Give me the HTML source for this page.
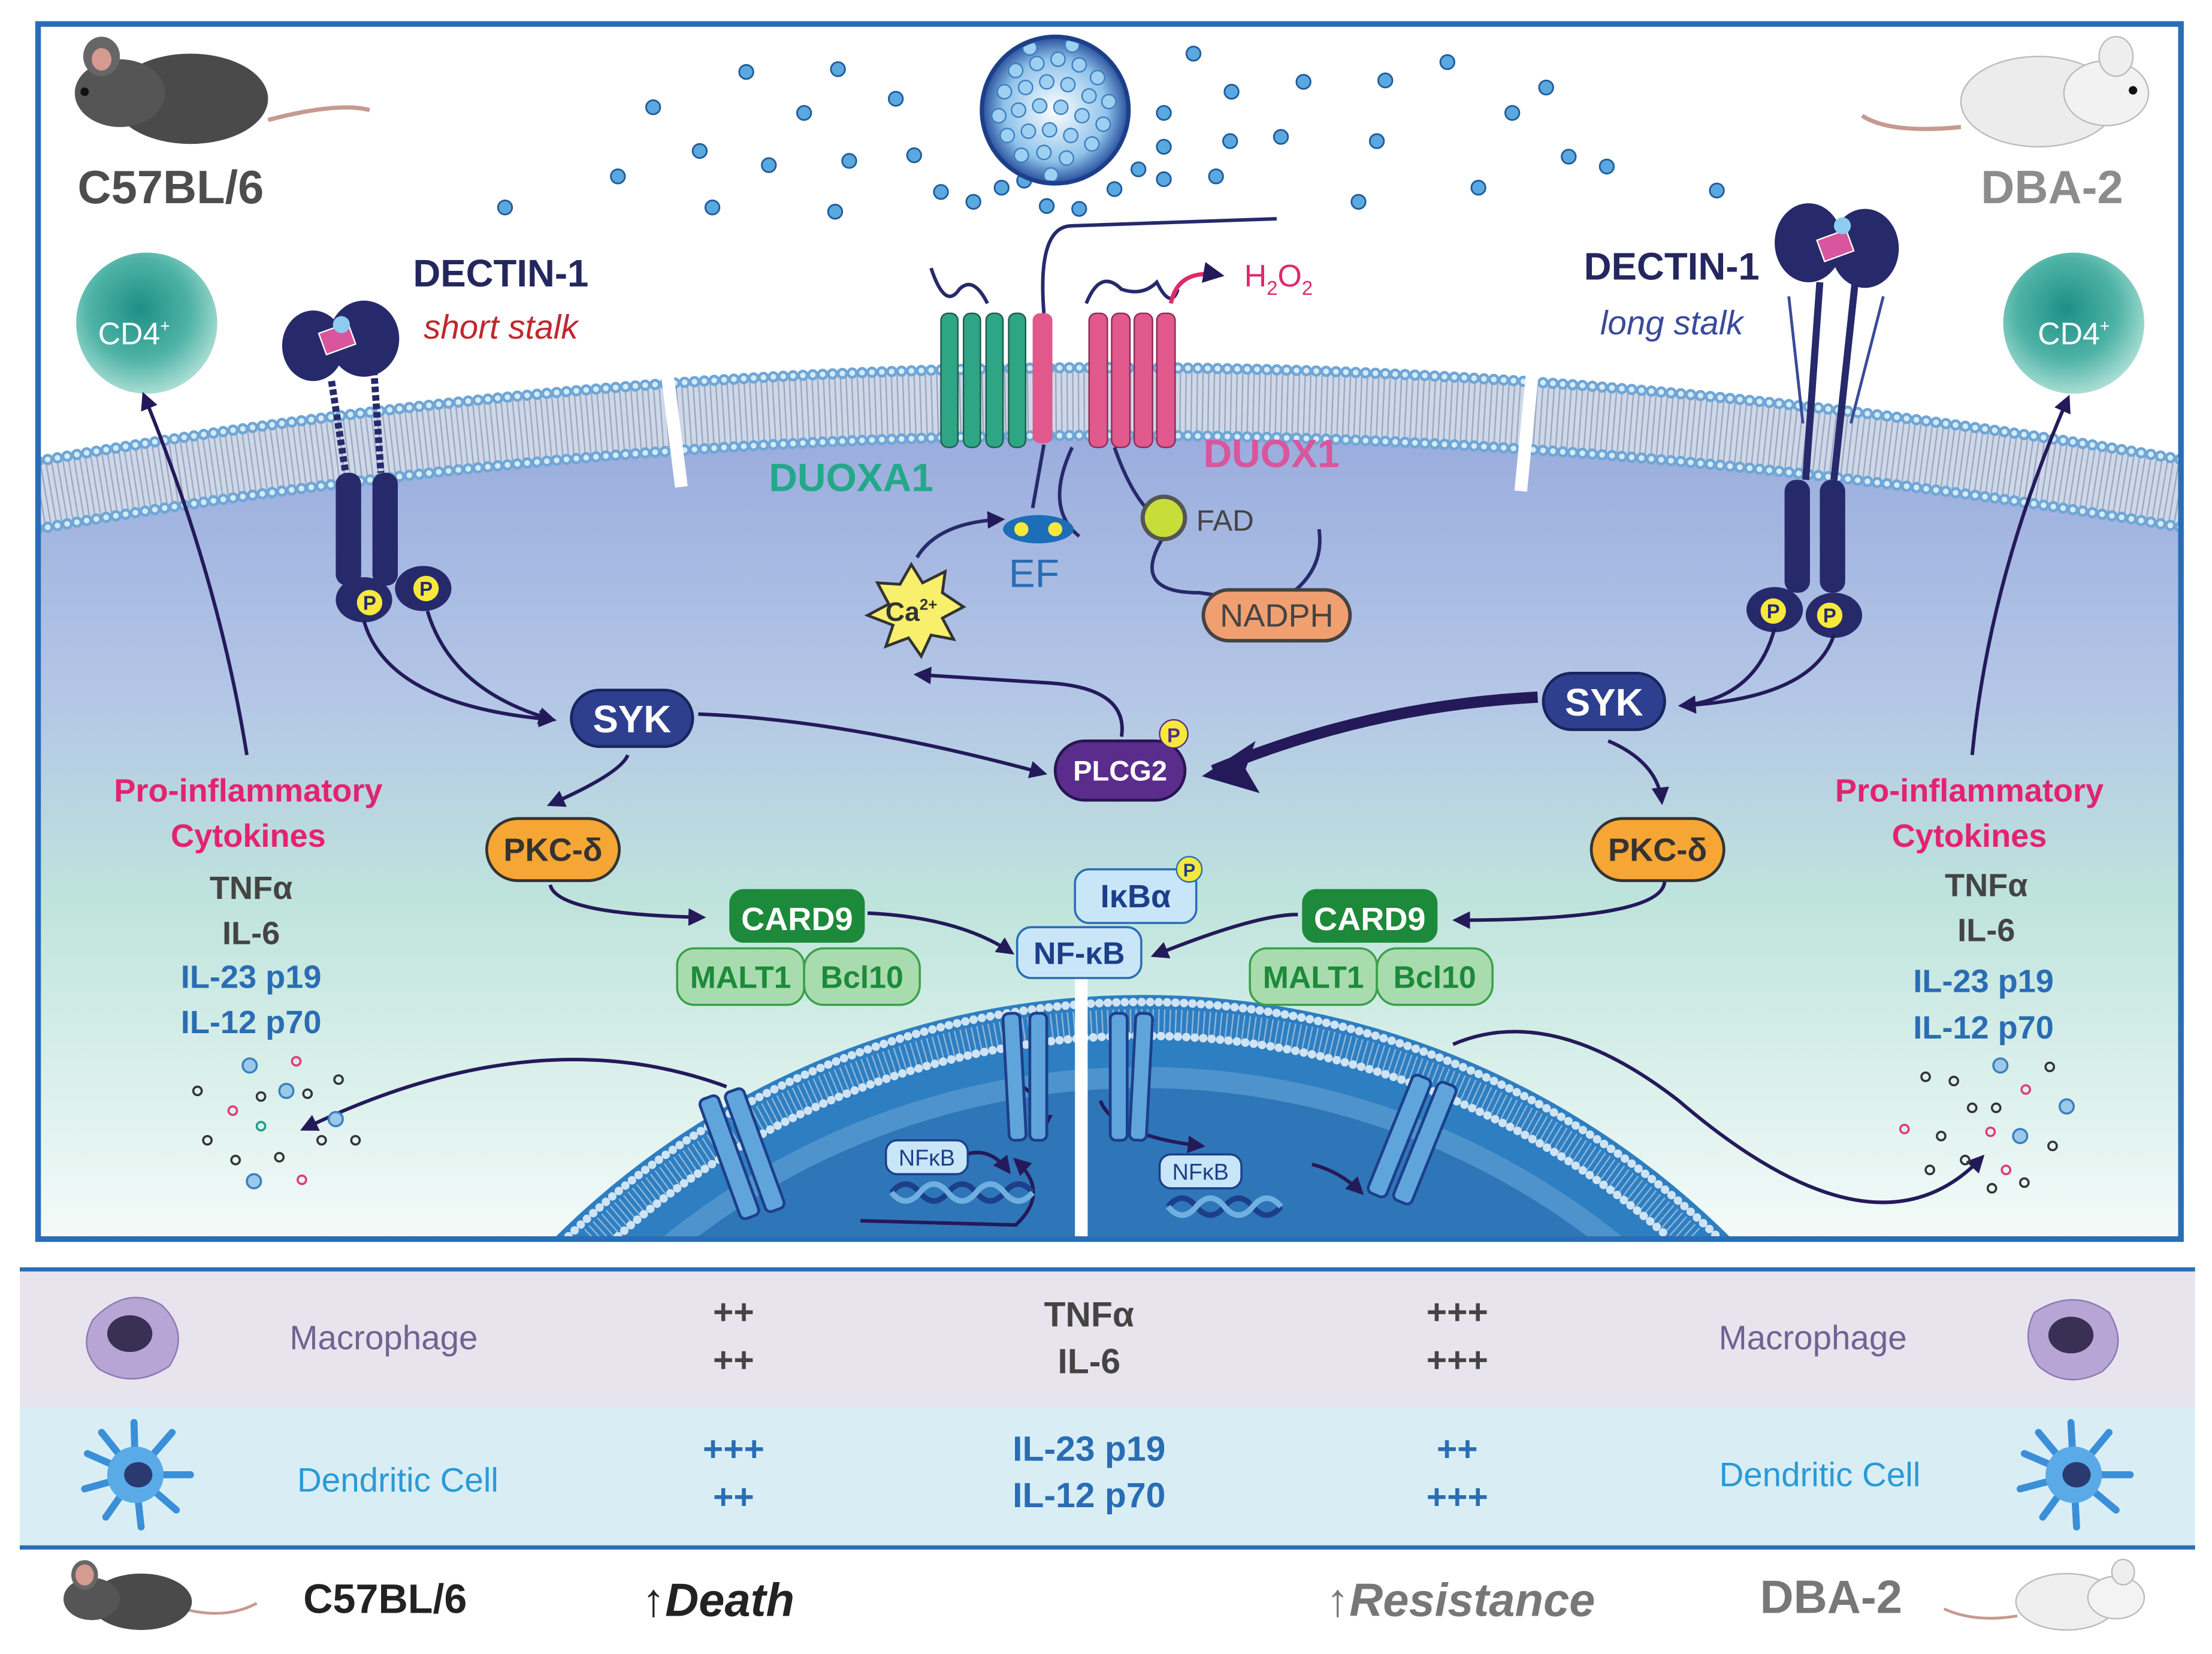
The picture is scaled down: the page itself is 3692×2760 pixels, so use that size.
<!DOCTYPE html>
<html><head><meta charset="utf-8"><style>
html,body{margin:0;padding:0;background:#fff;width:3692px;height:2760px;overflow:hidden}
svg{display:block;position:absolute;left:0;top:0}
text{font-family:"Liberation Sans",sans-serif}
</style></head><body>
<svg width="3692" height="2760" viewBox="0 0 1568 1172" preserveAspectRatio="none" xmlns="http://www.w3.org/2000/svg">
<defs>
<linearGradient id="cyto" x1="0" y1="0" x2="0" y2="1">
<stop offset="0" stop-color="#97a9dc"/><stop offset="0.35" stop-color="#b3c6e6"/><stop offset="0.6" stop-color="#bfe4dc"/><stop offset="1" stop-color="#f4fbf9"/></linearGradient>
<radialGradient id="cd4" cx="0.45" cy="0.4" r="0.6"><stop offset="0" stop-color="#1e8f86"/><stop offset="0.6" stop-color="#4fb3a6"/><stop offset="1" stop-color="#a8ddd3"/></radialGradient>
<radialGradient id="ves" cx="0.5" cy="0.5" r="0.5"><stop offset="0" stop-color="#ffffff"/><stop offset="0.7" stop-color="#8fc3ea"/><stop offset="1" stop-color="#274f9c"/></radialGradient>
<marker id="ah" viewBox="0 0 10 10" refX="8" refY="5" markerWidth="5" markerHeight="5" orient="auto"><path d="M0,0 L10,5 L0,10 z" fill="#241a5a"/></marker>
<clipPath id="frame"><rect x="27" y="17" width="1519" height="861"/></clipPath>
<clipPath id="vc"><circle cx="748" cy="78" r="50"/></clipPath>
</defs>
<rect width="1568" height="1172" fill="#fff"/>
<g clip-path="url(#frame)">
<path d="M0,350 Q785,215 1568,350 L1568,880 L0,880 Z" fill="url(#cyto)"/>
<g fill="none">
<path d="M20,352 Q785,217 1560,352" stroke="#cfd8e8" stroke-width="50"/>
<path d="M20,352 Q785,217 1560,352" stroke="#9aa8c0" stroke-width="44" stroke-dasharray="1 3"/>
<path d="M20,328 Q785,193 1560,328" stroke="#6fa6d6" stroke-width="8" stroke-dasharray="0 7" stroke-linecap="round"/>
<path d="M20,376 Q785,241 1560,376" stroke="#6fa6d6" stroke-width="8" stroke-dasharray="0 7" stroke-linecap="round"/>
<path d="M20,328 Q785,193 1560,328" stroke="#d6ebf8" stroke-width="4" stroke-dasharray="0 7" stroke-linecap="round"/>
<path d="M20,376 Q785,241 1560,376" stroke="#d6ebf8" stroke-width="4" stroke-dasharray="0 7" stroke-linecap="round"/>
</g>
<path d="M463,185 L483,345" stroke="#fff" stroke-width="9"/>
<path d="M1092,205 L1078,348" stroke="#fff" stroke-width="9"/>
<path d="M390.2,880 A591 591 0 0 1 1229.8,880 Z" fill="#2e7ec2"/>
<path d="M403,876 A582 582 0 0 1 1217,876" fill="none" stroke="#cfe3f2" stroke-width="6" stroke-dasharray="0 6" stroke-linecap="round"/>
<path d="M420.3,878 A570 570 0 0 1 1199.7,878" fill="none" stroke="#8fb7d8" stroke-width="18" stroke-dasharray="1 3"/>
<path d="M438.1,876 A558 558 0 0 1 1181.9,876" fill="none" stroke="#cfe3f2" stroke-width="6" stroke-dasharray="0 6" stroke-linecap="round"/>
<path d="M465.7,880 A540 540 0 0 1 1154.3,880 Z" fill="#4f93cc"/>
<path d="M489.7,880 A525 525 0 0 1 1130.3,880 Z" fill="#2f76b8"/>
<rect x="762" y="690" width="9" height="188" fill="#fff"/>
</g>
<rect x="27" y="17" width="1519" height="861" fill="none" stroke="#2a6db5" stroke-width="4"/>

<g fill="#5aa8e0" stroke="#1f5b9a" stroke-width="1.2">
<circle cx="529" cy="51" r="5"/><circle cx="594" cy="49" r="5"/><circle cx="463" cy="76" r="5"/><circle cx="635" cy="70" r="5"/><circle cx="570" cy="80" r="5"/><circle cx="496" cy="107" r="5"/><circle cx="545" cy="117" r="5"/><circle cx="602" cy="114" r="5"/><circle cx="648" cy="110" r="5"/><circle cx="438" cy="125" r="5"/><circle cx="505" cy="147" r="5"/><circle cx="592" cy="150" r="5"/><circle cx="358" cy="147" r="5"/><circle cx="667" cy="136" r="5"/><circle cx="846" cy="38" r="5"/><circle cx="924" cy="58" r="5"/><circle cx="982" cy="57" r="5"/><circle cx="1026" cy="44" r="5"/><circle cx="1096" cy="62" r="5"/><circle cx="873" cy="65" r="5"/><circle cx="825" cy="80" r="5"/><circle cx="825" cy="104" r="5"/><circle cx="872" cy="100" r="5"/><circle cx="908" cy="97" r="5"/><circle cx="976" cy="100" r="5"/><circle cx="1072" cy="80" r="5"/><circle cx="1112" cy="111" r="5"/><circle cx="1139" cy="118" r="5"/><circle cx="862" cy="125" r="5"/><circle cx="825" cy="127" r="5"/><circle cx="807" cy="120" r="5"/><circle cx="963" cy="143" r="5"/><circle cx="1048" cy="133" r="5"/><circle cx="1217" cy="135" r="5"/><circle cx="690" cy="143" r="5"/><circle cx="710" cy="133" r="5"/><circle cx="742" cy="146" r="5"/><circle cx="765" cy="148" r="5"/><circle cx="790" cy="134" r="5"/><circle cx="726" cy="128" r="5"/>
</g>
<circle cx="748" cy="78" r="52" fill="url(#ves)" stroke="#1d3f8a" stroke-width="3"/>
<g clip-path="url(#vc)" fill="#9fd0f2" stroke="#3a7fc0" stroke-width="1">
<circle cx="720" cy="50" r="5"/><circle cx="735" cy="45" r="5"/><circle cx="750" cy="42" r="5"/><circle cx="765" cy="46" r="5"/><circle cx="778" cy="55" r="5"/><circle cx="712" cy="65" r="5"/><circle cx="727" cy="62" r="5"/><circle cx="742" cy="58" r="5"/><circle cx="757" cy="60" r="5"/><circle cx="772" cy="68" r="5"/><circle cx="786" cy="72" r="5"/><circle cx="708" cy="82" r="5"/><circle cx="722" cy="78" r="5"/><circle cx="737" cy="75" r="5"/><circle cx="752" cy="76" r="5"/><circle cx="767" cy="82" r="5"/><circle cx="782" cy="88" r="5"/><circle cx="714" cy="96" r="5"/><circle cx="729" cy="93" r="5"/><circle cx="744" cy="92" r="5"/><circle cx="759" cy="96" r="5"/><circle cx="774" cy="102" r="5"/><circle cx="724" cy="110" r="5"/><circle cx="740" cy="108" r="5"/><circle cx="756" cy="112" r="5"/><circle cx="745" cy="124" r="5"/><circle cx="730" cy="34" r="5"/><circle cx="760" cy="32" r="5"/>
</g>

<g>
<path d="M190,85 Q240,72 262,78" stroke="#c79a8f" stroke-width="3" fill="none"/>
<ellipse cx="135" cy="70" rx="55" ry="32" fill="#4a4a4a"/>
<ellipse cx="85" cy="66" rx="32" ry="24" fill="#555"/>
<ellipse cx="72" cy="40" rx="13" ry="14" fill="#666"/>
<ellipse cx="72" cy="42" rx="7" ry="8" fill="#d59a90"/>
<circle cx="60" cy="65" r="3" fill="#111"/>
<text x="55" y="144" font-size="33" font-weight="bold" fill="#4d4d4d">C57BL/6</text>
</g>
<g>
<path d="M1390,90 Q1340,95 1320,82" stroke="#c79a8f" stroke-width="3" fill="none"/>
<ellipse cx="1445" cy="72" rx="55" ry="32" fill="#ececec" stroke="#bbb"/>
<ellipse cx="1493" cy="66" rx="30" ry="23" fill="#f2f2f2" stroke="#bbb"/>
<ellipse cx="1500" cy="40" rx="12" ry="14" fill="#eee" stroke="#bbb"/>
<circle cx="1512" cy="64" r="3" fill="#111"/>
<text x="1505" y="144" font-size="33" font-weight="bold" fill="#8c8c8c" text-anchor="end">DBA-2</text>
</g>

<circle cx="104" cy="229" r="50" fill="url(#cd4)"/>
<text x="95" y="244" font-size="22" fill="#fff" text-anchor="middle">CD4<tspan font-size="12" dy="-9">+</tspan></text>
<circle cx="1470" cy="229" r="50" fill="url(#cd4)"/>
<text x="1470" y="244" font-size="22" fill="#fff" text-anchor="middle">CD4<tspan font-size="12" dy="-9">+</tspan></text>

<text x="355" y="203" font-size="27" font-weight="bold" fill="#24275e" text-anchor="middle">DECTIN-1</text>
<text x="355" y="240" font-size="24" font-style="italic" fill="#c0272d" text-anchor="middle">short stalk</text>
<text x="1185" y="198" font-size="27" font-weight="bold" fill="#24275e" text-anchor="middle">DECTIN-1</text>
<text x="1185" y="237" font-size="24" font-style="italic" fill="#3a4a9a" text-anchor="middle">long stalk</text>

<g fill="#262a6b">
<ellipse cx="222" cy="245" rx="22" ry="25"/><ellipse cx="258" cy="240" rx="25" ry="27"/>
<path d="M235,270 L245,335 M265,262 L270,335" stroke="#262a6b" stroke-width="5" stroke-dasharray="4 2"/>
<rect x="238" y="335" width="18" height="80" rx="8"/><rect x="264" y="335" width="18" height="80" rx="8"/>
<ellipse cx="258" cy="425" rx="20" ry="16"/><ellipse cx="300" cy="417" rx="20" ry="16"/>
</g>
<rect x="228" y="232" width="22" height="16" fill="#d9559d" stroke="#fff" transform="rotate(-20 239 240)"/>
<circle cx="242" cy="230" r="6" fill="#8ecbf0"/>
<g font-size="14" font-weight="bold" text-anchor="middle" fill="#262a6b"><circle cx="262" cy="427" r="9" fill="#f6e93c"/><text x="262" y="432">P</text><circle cx="302" cy="417" r="9" fill="#f6e93c"/><text x="302" y="422">P</text></g>
<g fill="#262a6b">
<ellipse cx="1282" cy="172" rx="24" ry="28"/><ellipse cx="1322" cy="176" rx="24" ry="28"/>
<path d="M1290,200 L1280,340 M1315,200 L1300,340" stroke="#262a6b" stroke-width="5"/>
<path d="M1268,210 L1278,300 M1335,210 L1312,300" stroke="#3a4a9a" stroke-width="2"/>
<rect x="1265" y="340" width="18" height="80" rx="8"/><rect x="1290" y="340" width="18" height="80" rx="8"/>
<ellipse cx="1258" cy="432" rx="20" ry="16"/><ellipse cx="1300" cy="436" rx="20" ry="16"/>
</g>
<rect x="1290" y="166" width="22" height="16" fill="#d9559d" stroke="#fff" transform="rotate(-20 1301 174)"/>
<circle cx="1306" cy="160" r="6" fill="#8ecbf0"/>
<g font-size="14" font-weight="bold" text-anchor="middle" fill="#262a6b"><circle cx="1257" cy="433" r="9" fill="#f6e93c"/><text x="1257" y="438">P</text><circle cx="1297" cy="436" r="9" fill="#f6e93c"/><text x="1297" y="441">P</text></g>

<g stroke="#1d5a4a" stroke-width="1">
<rect x="667" y="222" width="12" height="95" rx="5" fill="#2ea585"/><rect x="683" y="222" width="12" height="95" rx="5" fill="#2ea585"/><rect x="699" y="222" width="12" height="95" rx="5" fill="#2ea585"/><rect x="715" y="222" width="12" height="95" rx="5" fill="#2ea585"/>
</g>
<rect x="732" y="222" width="14" height="92" rx="5" fill="#e0588c"/>
<g fill="#e0588c" stroke="#8c2a54" stroke-width="1">
<rect x="772" y="222" width="13" height="95" rx="5"/><rect x="788" y="222" width="13" height="95" rx="5"/><rect x="804" y="222" width="13" height="95" rx="5"/><rect x="820" y="222" width="13" height="95" rx="5"/>
</g>
<path d="M660,190 q10,30 20,15 q10,-10 20,10 M740,222 Q735,160 760,160 L905,155 M770,215 q10,-25 25,-10 q15,5 25,-5 q10,20 15,5" stroke="#262a6b" stroke-width="2.5" fill="none"/>
<path d="M740,315 L732,360 M760,317 Q740,360 765,380 M790,317 Q805,360 825,370 M825,380 Q800,420 850,420 Q890,425 900,440 M900,430 Q940,410 935,375" stroke="#262a6b" stroke-width="2.5" fill="none"/>
<path d="M830,215 Q835,190 865,195" stroke="#e0286a" stroke-width="3" fill="none" marker-end="url(#ah)"/>
<text x="882" y="203" font-size="22" fill="#e0286a">H<tspan font-size="14" dy="6">2</tspan><tspan dy="-6">O</tspan><tspan font-size="14" dy="6">2</tspan></text>
<text x="545" y="348" font-size="28" font-weight="bold" fill="#23a88a">DUOXA1</text>
<text x="853" y="331" font-size="28" font-weight="bold" fill="#d9559d">DUOX1</text>
<circle cx="825" cy="367" r="15" fill="#c7dd3a" stroke="#555" stroke-width="3"/>
<text x="848" y="376" font-size="21" fill="#444">FAD</text>
<rect x="853" y="418" width="104" height="36" rx="18" fill="#f0a070" stroke="#444" stroke-width="2.5"/>
<text x="905" y="444" font-size="23" fill="#444" text-anchor="middle">NADPH</text>
<g><ellipse cx="736" cy="375" rx="25" ry="10" fill="#1d6db8"/><circle cx="724" cy="375" r="5" fill="#f6e93c"/><circle cx="748" cy="375" r="5" fill="#f6e93c"/></g>
<text x="733" y="416" font-size="28" fill="#2a6db5" text-anchor="middle">EF</text>
<path d="M650,395 Q665,370 710,368" stroke="#262a6b" stroke-width="2.5" fill="none" marker-end="url(#ah)"/>
<polygon points="646,400 654,413 670,405 668,420 683,430 668,438 676,453 660,450 653,465 644,452 628,458 633,443 615,436 630,428 622,413 638,414" fill="#f8ef6c" stroke="#333" stroke-width="2"/>
<text x="646" y="440" font-size="19" font-weight="bold" fill="#333" text-anchor="middle">Ca<tspan font-size="11" dy="-8">2+</tspan></text>

<g stroke="#241a5a" stroke-width="2.5" fill="none" marker-end="url(#ah)">
<path d="M258,440 Q275,500 392,510"/>
<path d="M303,433 Q320,490 392,510"/>
<path d="M495,506 Q600,510 740,548"/>
<path d="M795,522 Q800,488 745,484 L650,478"/>
<path d="M445,535 Q440,548 390,570"/>
<path d="M390,627 Q395,648 498,650"/>
<path d="M615,647 Q680,650 717,675"/>
<path d="M920,648 Q890,648 818,677"/>
<path d="M1180,624 Q1180,652 1032,652"/>
<path d="M1140,525 Q1175,540 1178,568"/>
<path d="M1258,445 Q1245,495 1192,500"/>
<path d="M1300,450 Q1285,495 1192,500"/>
<path d="M175,535 Q155,410 102,280"/>
<path d="M1398,535 Q1410,410 1466,282"/>
<path d="M515,770 Q380,720 215,800"/>
<path d="M1030,740 Q1100,710 1190,780 Q1330,900 1405,820"/>
<path d="M725,770 Q740,780 740,800"/>
<path d="M610,865 L720,868 Q745,845 720,822"/>
<path d="M930,825 Q950,830 965,845"/>
<path d="M780,780 Q790,805 852,812"/>
<path d="M680,820 Q700,810 715,830"/>
</g>
<path d="M1090,494 Q970,500 860,546" stroke="#241a5a" stroke-width="8" fill="none"/>
<polygon points="852,550 890,525 883,545 893,562" fill="#241a5a"/>

<g fill="#5fa5dc" stroke="#1d3f8a" stroke-width="2">
<rect x="713" y="718" width="12" height="90" rx="4" transform="rotate(-3 719 760)"/><rect x="730" y="718" width="12" height="90" rx="4"/>
<rect x="787" y="718" width="12" height="90" rx="4"/><rect x="803" y="718" width="12" height="90" rx="4" transform="rotate(3 809 760)"/>
<rect x="510" y="775" width="14" height="90" rx="4" transform="rotate(-20 517 820)"/><rect x="528" y="770" width="14" height="90" rx="4" transform="rotate(-20 535 815)"/>
<rect x="985" y="760" width="14" height="90" rx="4" transform="rotate(22 992 805)"/><rect x="1003" y="765" width="14" height="90" rx="4" transform="rotate(22 1010 810)"/>
</g>
<rect x="628" y="808" width="58" height="24" rx="8" fill="#c9e6f8" stroke="#1d3f8a" stroke-width="1.5"/>
<text x="657" y="826" font-size="16" fill="#1d3f8a" text-anchor="middle">NFκB</text>
<rect x="822" y="818" width="58" height="24" rx="8" fill="#c9e6f8" stroke="#1d3f8a" stroke-width="1.5"/>
<text x="851" y="836" font-size="16" fill="#1d3f8a" text-anchor="middle">NFκB</text>
<path d="M632,845 q10,-12 20,0 t20,0 t20,0 t20,0 t20,0" stroke="#1d3f8a" stroke-width="4" fill="none"/>
<path d="M632,845 q10,12 20,0 t20,0 t20,0 t20,0 t20,0" stroke="#6fb0e0" stroke-width="4" fill="none"/>
<path d="M828,855 q10,-12 20,0 t20,0 t20,0 t20,0" stroke="#1d3f8a" stroke-width="4" fill="none"/>
<path d="M828,855 q10,12 20,0 t20,0 t20,0 t20,0" stroke="#6fb0e0" stroke-width="4" fill="none"/>

<rect x="405" y="489" width="86" height="40" rx="20" fill="#2e3f8f" stroke="#1a2560" stroke-width="2"/>
<text x="448" y="519" font-size="27" font-weight="bold" fill="#fff" text-anchor="middle">SYK</text>
<rect x="1094" y="477" width="86" height="40" rx="20" fill="#2e3f8f" stroke="#1a2560" stroke-width="2"/>
<text x="1137" y="507" font-size="27" font-weight="bold" fill="#fff" text-anchor="middle">SYK</text>
<rect x="748" y="525" width="92" height="42" rx="21" fill="#5a2c8c" stroke="#2a1550" stroke-width="2"/>
<text x="794" y="553" font-size="20" font-weight="bold" fill="#fff" text-anchor="middle">PLCG2</text>
<circle cx="832" cy="520" r="10" fill="#f6e93c" stroke="#5a2c8c"/><text x="832" y="526" font-size="14" font-weight="bold" fill="#5a2c8c" text-anchor="middle">P</text>
<rect x="345" y="580" width="94" height="44" rx="22" fill="#f6a634" stroke="#333" stroke-width="2"/>
<text x="392" y="610" font-size="23" font-weight="bold" fill="#333" text-anchor="middle">PKC-δ</text>
<rect x="1128" y="580" width="94" height="44" rx="22" fill="#f6a634" stroke="#333" stroke-width="2"/>
<text x="1175" y="610" font-size="23" font-weight="bold" fill="#333" text-anchor="middle">PKC-δ</text>
<rect x="517" y="630" width="96" height="38" rx="10" fill="#1c8a3a"/>
<text x="565" y="659" font-size="23" font-weight="bold" fill="#fff" text-anchor="middle">CARD9</text>
<rect x="923" y="630" width="96" height="38" rx="10" fill="#1c8a3a"/>
<text x="971" y="659" font-size="23" font-weight="bold" fill="#fff" text-anchor="middle">CARD9</text>
<g fill="#a8dcae" stroke="#3aa04a" stroke-width="1.5">
<rect x="480" y="672" width="90" height="40" rx="12"/><rect x="570" y="672" width="82" height="40" rx="14"/>
<rect x="886" y="672" width="90" height="40" rx="12"/><rect x="976" y="672" width="82" height="40" rx="14"/>
</g>
<g font-size="22" font-weight="bold" fill="#1c8a3a" text-anchor="middle">
<text x="525" y="700">MALT1</text><text x="611" y="700">Bcl10</text><text x="931" y="700">MALT1</text><text x="1017" y="700">Bcl10</text></g>
<rect x="762" y="616" width="86" height="38" rx="10" fill="#c9e6f8" stroke="#2a6db5" stroke-width="1.5"/>
<text x="805" y="643" font-size="23" font-weight="bold" fill="#1d3f8a" text-anchor="middle">IκBα</text>
<circle cx="843" cy="616" r="9" fill="#f6e93c" stroke="#2a6db5"/><text x="843" y="621" font-size="13" font-weight="bold" fill="#1d3f8a" text-anchor="middle">P</text>
<rect x="721" y="657" width="88" height="36" rx="10" fill="#c9e6f8" stroke="#2a6db5" stroke-width="1.5"/>
<text x="765" y="683" font-size="22" font-weight="bold" fill="#1d3f8a" text-anchor="middle">NF-κB</text>

<g font-size="23" font-weight="bold" text-anchor="middle">
<text x="176" y="568" fill="#e2246f">Pro-inflammatory</text><text x="176" y="600" fill="#e2246f">Cytokines</text>
<text x="178" y="637" fill="#444">TNFα</text><text x="178" y="669" fill="#444">IL-6</text>
<text x="178" y="700" fill="#2a6db5">IL-23 p19</text><text x="178" y="732" fill="#2a6db5">IL-12 p70</text>
<text x="1396" y="568" fill="#e2246f">Pro-inflammatory</text><text x="1396" y="600" fill="#e2246f">Cytokines</text>
<text x="1408" y="635" fill="#444">TNFα</text><text x="1408" y="667" fill="#444">IL-6</text>
<text x="1406" y="703" fill="#2a6db5">IL-23 p19</text><text x="1406" y="736" fill="#2a6db5">IL-12 p70</text>
</g>
<g fill="none" stroke-width="1.5">
<circle cx="177" cy="755" r="5" stroke="#3a80c0" fill="#9cc8ea"/><circle cx="210" cy="752" r="3" stroke="#e03a7a"/><circle cx="203" cy="773" r="5" stroke="#3a80c0" fill="#9cc8ea"/><circle cx="140" cy="773" r="3" stroke="#333"/><circle cx="185" cy="777" r="3" stroke="#333"/><circle cx="240" cy="765" r="3" stroke="#333"/><circle cx="165" cy="787" r="3" stroke="#e03a7a"/><circle cx="218" cy="775" r="3" stroke="#333"/><circle cx="238" cy="793" r="5" stroke="#3a80c0" fill="#9cc8ea"/><circle cx="185" cy="798" r="3" stroke="#1aa08a"/><circle cx="147" cy="808" r="3" stroke="#333"/><circle cx="198" cy="820" r="3" stroke="#333"/><circle cx="228" cy="808" r="3" stroke="#333"/><circle cx="252" cy="808" r="3" stroke="#333"/><circle cx="180" cy="837" r="5" stroke="#3a80c0" fill="#9cc8ea"/><circle cx="214" cy="836" r="3" stroke="#e03a7a"/><circle cx="167" cy="822" r="3" stroke="#333"/>
<circle cx="1418" cy="755" r="5" stroke="#3a80c0" fill="#9cc8ea"/><circle cx="1453" cy="756" r="3" stroke="#333"/><circle cx="1365" cy="763" r="3" stroke="#333"/><circle cx="1385" cy="766" r="3" stroke="#333"/><circle cx="1436" cy="772" r="3" stroke="#e03a7a"/><circle cx="1398" cy="785" r="3" stroke="#333"/><circle cx="1415" cy="785" r="3" stroke="#333"/><circle cx="1465" cy="784" r="5" stroke="#3a80c0" fill="#9cc8ea"/><circle cx="1350" cy="800" r="3" stroke="#e03a7a"/><circle cx="1376" cy="805" r="3" stroke="#333"/><circle cx="1411" cy="802" r="3" stroke="#e03a7a"/><circle cx="1432" cy="805" r="5" stroke="#3a80c0" fill="#9cc8ea"/><circle cx="1455" cy="812" r="3" stroke="#333"/><circle cx="1393" cy="822" r="3" stroke="#333"/><circle cx="1368" cy="829" r="3" stroke="#333"/><circle cx="1422" cy="829" r="3" stroke="#e03a7a"/><circle cx="1412" cy="842" r="3" stroke="#333"/><circle cx="1435" cy="838" r="3" stroke="#333"/>
</g>

<rect x="14" y="898" width="1542" height="3" fill="#2a6db5"/>
<rect x="14" y="901" width="1542" height="96" fill="#e8e4ee"/>
<rect x="14" y="997" width="1542" height="98" fill="#d9eef4"/>
<rect x="14" y="1095" width="1542" height="3" fill="#2a6db5"/>
<path d="M66,935 Q90,910 115,925 Q135,945 120,968 Q95,985 70,970 Q55,955 66,935Z" fill="#b7a5d6" stroke="#8a78b0"/>
<ellipse cx="92" cy="945" rx="16" ry="13" fill="#3a2f55"/>
<path d="M1442,930 Q1470,912 1495,930 Q1510,955 1490,972 Q1465,985 1445,968 Q1432,950 1442,930Z" fill="#b7a5d6" stroke="#8a78b0"/>
<ellipse cx="1468" cy="946" rx="16" ry="13" fill="#3a2f55"/>
<g stroke="#3a8fd8" stroke-width="5" stroke-linecap="round">
<path d="M96,1045 L62,1030 M96,1045 L60,1055 M96,1045 L75,1075 M96,1045 L100,1082 M96,1045 L125,1070 M96,1045 L135,1045 M96,1045 L122,1015 M96,1045 L95,1008 M96,1045 L72,1015"/>
<path d="M1470,1045 L1435,1030 M1470,1045 L1432,1055 M1470,1045 L1448,1075 M1470,1045 L1472,1082 M1470,1045 L1500,1070 M1470,1045 L1510,1045 M1470,1045 L1495,1015 M1470,1045 L1468,1008 M1470,1045 L1445,1015"/>
</g>
<circle cx="96" cy="1045" r="20" fill="#5aaae8"/><ellipse cx="98" cy="1045" rx="10" ry="9" fill="#2a3a70"/>
<circle cx="1470" cy="1045" r="20" fill="#5aaae8"/><ellipse cx="1472" cy="1045" rx="10" ry="9" fill="#2a3a70"/>
<g font-size="24" text-anchor="middle">
<text x="272" y="956" fill="#6e6492">Macrophage</text><text x="1285" y="956" fill="#6e6492">Macrophage</text>
<text x="282" y="1057" fill="#2a9ad8">Dendritic Cell</text><text x="1290" y="1053" fill="#2a9ad8">Dendritic Cell</text>
</g>
<g font-size="25" font-weight="bold" text-anchor="middle">
<text x="520" y="938" fill="#444">++</text><text x="520" y="972" fill="#444">++</text>
<text x="772" y="940" fill="#444">TNFα</text><text x="772" y="973" fill="#444">IL-6</text>
<text x="1033" y="938" fill="#444">+++</text><text x="1033" y="972" fill="#444">+++</text>
<text x="520" y="1035" fill="#2a6db5">+++</text><text x="520" y="1069" fill="#2a6db5">++</text>
<text x="772" y="1035" fill="#2a6db5">IL-23 p19</text><text x="772" y="1068" fill="#2a6db5">IL-12 p70</text>
<text x="1033" y="1035" fill="#2a6db5">++</text><text x="1033" y="1069" fill="#2a6db5">+++</text>
</g>
<path d="M130,1140 Q160,1148 182,1136" stroke="#c79a8f" stroke-width="2" fill="none"/>
<ellipse cx="100" cy="1135" rx="36" ry="20" fill="#4a4a4a"/><ellipse cx="65" cy="1133" rx="20" ry="15" fill="#555"/><ellipse cx="60" cy="1116" rx="8" ry="9" fill="#d59a90" stroke="#666" stroke-width="3"/>
<path d="M1430,1145 Q1400,1150 1378,1140" stroke="#c79a8f" stroke-width="2" fill="none"/>
<ellipse cx="1465" cy="1135" rx="36" ry="20" fill="#efefef" stroke="#bbb"/><ellipse cx="1500" cy="1132" rx="20" ry="15" fill="#f3f3f3" stroke="#bbb"/><ellipse cx="1505" cy="1114" rx="8" ry="9" fill="#eee" stroke="#bbb"/>
<text x="273" y="1143" font-size="29" font-weight="bold" fill="#222" text-anchor="middle">C57BL/6</text>
<text x="455" y="1145" font-size="33" fill="#222">↑<tspan font-weight="bold" font-style="italic">Death</tspan></text>
<text x="940" y="1145" font-size="33" fill="#777">↑<tspan font-weight="bold" font-style="italic">Resistance</tspan></text>
<text x="1298" y="1143" font-size="33" font-weight="bold" fill="#777" text-anchor="middle">DBA-2</text>
</svg>
</body></html>
